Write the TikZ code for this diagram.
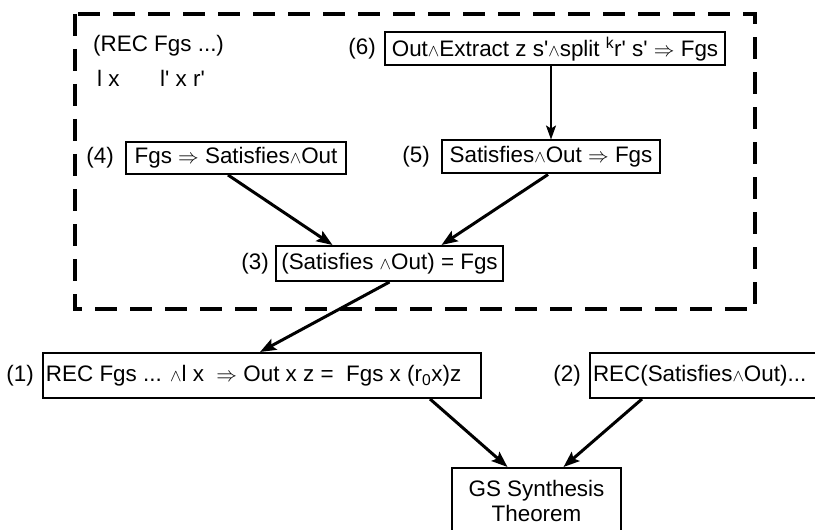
\documentclass[tikz,border=0pt]{standalone}
\usepackage{fontspec}
\setmainfont{Liberation Sans}[Ligatures=TeXOff]
\usetikzlibrary{positioning,arrows.meta}

\newcommand{\lnd}{{\fontsize{17}{17}\selectfont$\wedge$}}

\tikzset{
  stmt/.style={draw,line width=2bp,inner sep=3bp,font=\fontsize{22.5}{26}\selectfont},
  lbl/.style={inner sep=0pt,font=\fontsize{22.5}{26}\selectfont},
  dep/.style={-{Stealth[length=16bp,width=12bp,inset=3bp]},line width=3bp},
  thindep/.style={-{Stealth[length=14bp,width=10bp,inset=3bp]},line width=1.6bp},
  region/.style={line width=4bp,dash pattern=on 22bp off 13bp},
}

\begin{document}
\begin{tikzpicture}[x=1bp,y=-1bp,node distance=8bp]
  \useasboundingbox (0,0) rectangle (815,530);

  % the recursive part
  \draw[region] (75,14) rectangle (755,309);
  \node[lbl,anchor=west] (rec) at (93,46) {(REC Fgs ...)};
  \node[lbl,anchor=west] (lx) at (97,78) {l x};
  \node[lbl,anchor=west] (lpx) at (160,78) {l' x r'};

  \node[stmt,minimum width=340bp,minimum height=33bp] (b6) at (555,49)
    {Out\lnd Extract z s'\lnd split \textsuperscript{k}r' s' $\Rightarrow$ Fgs};
  \node[stmt,minimum width=220bp,minimum height=32bp] (b4) at (236,158)
    {Fgs $\Rightarrow$ Satisfies\lnd Out};
  \node[stmt,minimum width=218bp,minimum height=33bp] (b5) at (551,157)
    {Satisfies\lnd Out $\Rightarrow$ Fgs};
  \node[stmt,minimum width=227bp,minimum height=35bp] (b3) at (389.5,263.5)
    {(Satisfies \lnd Out) = Fgs};

  % the main level
  \node[stmt,minimum height=45bp] (b1) at (262,375.5)
    {\makebox[432bp][l]{REC Fgs ... \lnd l x \ $\Rightarrow$ Out x z = \ Fgs x (r\textsubscript{0}x)z}};
  \node[stmt,anchor=west,minimum height=45bp] (b2) at (589,375.5)
    {\makebox[226bp][l]{REC(Satisfies\lnd Out)...}};
  \node[stmt,anchor=north,minimum width=169bp,minimum height=66bp,align=center] (gs) at (536.5,467)
    {GS Synthesis\\Theorem};

  \node[lbl,left=of b6] (l6) {(6)};
  \node[lbl,left=11bp of b4] (l4) {(4)};
  \node[lbl,left=11bp of b5] (l5) {(5)};
  \node[lbl,left=6bp of b3] (l3) {(3)};
  \node[lbl,left=of b1] (l1) {(1)};
  \node[lbl,left=of b2] (l2) {(2)};

  \draw[thindep] (b5.north |- b6.south) -- (b5.north);
  \draw[dep] ([xshift=-8bp]b4.south) -- ([xshift=-57bp]b3.north);
  \draw[dep] ([xshift=-3bp]b5.south) -- ([xshift=52bp]b3.north);
  \draw[dep] (b3.south) -- ([xshift=-2bp]b1.north);
  \draw[dep] ([xshift=168bp]b1.south) -- ([xshift=-29bp]gs.north);
  \draw[dep] ([xshift=53bp]b2.south west) -- ([xshift=27bp]gs.north);
\end{tikzpicture}
\end{document}
